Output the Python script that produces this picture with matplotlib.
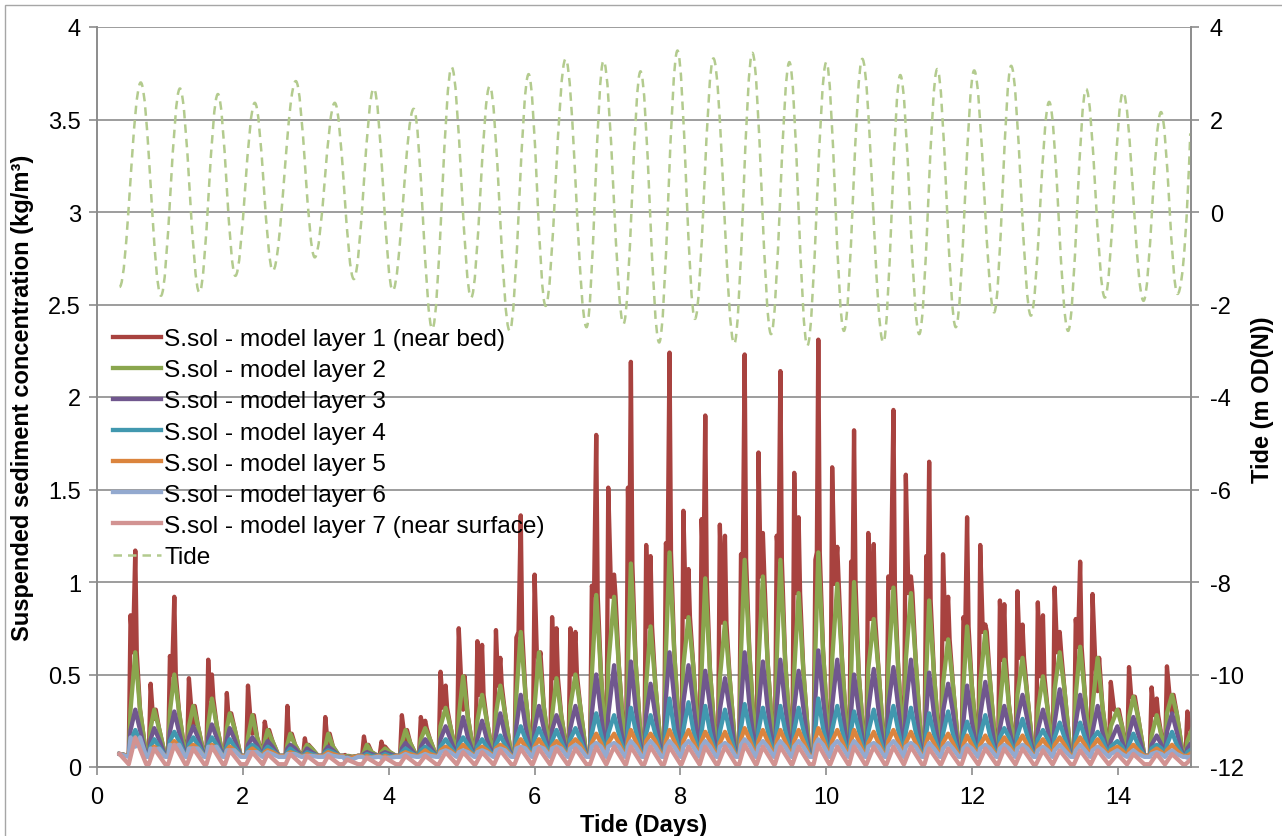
import numpy as np
import matplotlib
matplotlib.use("Agg")
import matplotlib.pyplot as plt
from matplotlib.path import Path
from matplotlib.patches import PathPatch, Rectangle
from matplotlib.lines import Line2D
from matplotlib.ticker import FuncFormatter

plt.rcParams['font.family'] = ['Liberation Sans', 'DejaVu Sans']
plt.rcParams['axes.unicode_minus'] = False

# ---------------- data ----------------
series_start_t = 0.31
series_end_t = 15.0
start_level = 0.07

# tide: start point, high waters, low waters, end point
tide_start = (0.31, -1.62)
tide_end = (14.99, 1.70)
hw_t = [0.60, 1.137, 1.658, 2.164, 2.726, 3.260, 3.795, 4.342, 4.863, 5.384,
        5.918, 6.425, 6.945, 7.452, 7.959, 8.452, 8.986, 9.493, 10.0, 10.493,
        11.014, 11.521, 12.027, 12.534, 13.055, 13.562, 14.068, 14.589]
hw_v = [2.80, 2.67, 2.55, 2.36, 2.83, 2.36, 2.67, 2.23, 3.13, 2.72,
        2.98, 3.31, 3.27, 3.04, 3.49, 3.32, 3.44, 3.24, 3.24, 3.31,
        2.96, 3.09, 3.06, 3.16, 2.38, 2.66, 2.59, 2.16]
lw_t = [0.877, 1.404, 1.897, 2.411, 2.986, 3.521, 4.055, 4.597, 5.130, 5.658,
        6.151, 6.712, 7.219, 7.708, 8.199, 8.737, 9.242, 9.740, 10.241, 10.781,
        11.274, 11.775, 12.301, 12.805, 13.315, 13.819, 14.349, 14.815]
lw_v = [-1.81, -1.74, -1.38, -1.27, -0.98, -1.45, -1.70, -2.53, -1.85, -2.57,
        -2.03, -2.49, -2.42, -2.82, -2.31, -2.85, -2.64, -2.89, -2.57, -2.82,
        -2.64, -2.49, -2.17, -2.24, -2.57, -1.85, -1.92, -1.77]

# sediment events: first and second peak time of each event
ev_t1 = [0.46, 0.735, 1.00, 1.26, 1.525, 1.78, 2.07, 2.30, 2.61, 2.85,
         3.13, 3.40, 3.66, 3.90, 4.18, 4.44, 4.71, 4.96, 5.215, 5.47,
         5.75, 6.00, 6.24, 6.49, 6.785, 7.01, 7.28, 7.53, 7.80, 8.04,
         8.29, 8.54, 8.83, 9.07, 9.32, 9.56, 9.85, 10.08, 10.34, 10.575,
         10.85, 11.09, 11.37, 11.60, 11.88, 12.11, 12.38, 12.62, 12.90, 13.13,
         13.42, 13.65, 13.90, 14.15, 14.46, 14.67, 14.95]
ev_t2 = [0.525, 0.785, 1.06, 1.32, 1.575, 1.82, 2.13, 2.34, 2.65, 2.88,
         3.17, 3.43, 3.70, 3.95, 4.23, 4.50, 4.78, 5.02, 5.28, 5.53,
         5.81, 6.06, 6.30, 6.56, 6.845, 7.09, 7.32, 7.59, 7.85, 8.11,
         8.34, 8.61, 8.88, 9.13, 9.37, 9.62, 9.89, 10.15, 10.38, 10.65,
         10.92, 11.16, 11.41, 11.67, 11.93, 12.18, 12.44, 12.69, 12.97, 13.20,
         13.48, 13.72, 13.99, 14.21, 14.53, 14.74, 15.02]

layer1_p1 = [0.82, 0.45, 0.60, 0.48, 0.58, 0.40, 0.44, 0.245, 0.33, 0.155,
             0.27, 0.065, 0.165, 0.137, 0.28, 0.27, 0.515, 0.75, 0.68, 0.74,
             0.70, 1.04, 0.81, 0.75, 0.98, 1.51, 1.51, 1.20, 1.21, 1.385,
             1.34, 1.31, 1.15, 1.70, 1.25, 1.59, 1.12, 1.62, 1.11, 1.265,
             1.03, 1.58, 1.14, 1.15, 0.81, 1.20, 0.90, 0.95, 0.89, 0.97,
             0.80, 0.935, 0.46, 0.54, 0.43, 0.544, 0.30]
layer1_p2 = [1.17, 0.26, 0.92, 0.22, 0.50, 0.28, 0.18, 0.12, 0.15, 0.08,
             0.12, 0.05, 0.08, 0.11, 0.13, 0.25, 0.44, 0.31, 0.66, 0.59,
             1.36, 0.57, 0.75, 0.73, 1.795, 1.04, 2.19, 1.14, 2.24, 1.07,
             1.90, 1.25, 2.23, 1.265, 2.14, 1.35, 2.31, 1.19, 1.82, 1.205,
             1.93, 1.03, 1.65, 0.92, 1.35, 0.77, 0.88, 0.77, 0.82, 0.73,
             1.11, 0.41, 0.30, 0.38, 0.37, 0.29, 0.18]
layer2_pk = [0.62, 0.31, 0.50, 0.33, 0.37, 0.29, 0.28, 0.20, 0.18, 0.12,
             0.18, 0.06, 0.12, 0.10, 0.20, 0.21, 0.32, 0.49, 0.39, 0.44,
             0.73, 0.62, 0.48, 0.50, 0.93, 0.92, 1.10, 0.76, 1.16, 0.81,
             1.02, 0.78, 1.12, 1.03, 1.12, 0.94, 1.16, 0.99, 1.00, 0.80,
             0.97, 0.94, 0.90, 0.69, 0.76, 0.73, 0.58, 0.59, 0.49, 0.62,
             0.65, 0.59, 0.31, 0.38, 0.28, 0.39, 0.21]
layer3_pk = [0.31, 0.21, 0.30, 0.22, 0.23, 0.21, 0.16, 0.14, 0.12, 0.10,
             0.11, 0.055, 0.08, 0.08, 0.13, 0.15, 0.22, 0.27, 0.25, 0.29,
             0.39, 0.33, 0.28, 0.33, 0.50, 0.55, 0.57, 0.45, 0.62, 0.55,
             0.52, 0.48, 0.62, 0.57, 0.58, 0.52, 0.63, 0.58, 0.50, 0.53,
             0.54, 0.58, 0.51, 0.45, 0.44, 0.46, 0.33, 0.39, 0.31, 0.42,
             0.39, 0.33, 0.22, 0.27, 0.17, 0.29, 0.14]
layer4_pk = [0.20, 0.15, 0.19, 0.16, 0.16, 0.15, 0.12, 0.11, 0.10, 0.08,
             0.09, 0.05, 0.07, 0.07, 0.10, 0.11, 0.15, 0.16, 0.15, 0.17,
             0.22, 0.21, 0.20, 0.21, 0.29, 0.28, 0.32, 0.28, 0.37, 0.35,
             0.33, 0.31, 0.34, 0.32, 0.33, 0.32, 0.37, 0.33, 0.30, 0.31,
             0.33, 0.32, 0.29, 0.30, 0.245, 0.28, 0.21, 0.26, 0.20, 0.24,
             0.24, 0.19, 0.14, 0.18, 0.12, 0.19, 0.10]
layer5_pk = [0.14, 0.11, 0.14, 0.12, 0.12, 0.11, 0.10, 0.09, 0.08, 0.07,
             0.08, 0.05, 0.06, 0.06, 0.08, 0.09, 0.11, 0.12, 0.11, 0.12,
             0.15, 0.15, 0.14, 0.15, 0.18, 0.18, 0.20, 0.18, 0.20, 0.20,
             0.19, 0.19, 0.21, 0.20, 0.20, 0.20, 0.21, 0.20, 0.20, 0.19,
             0.20, 0.19, 0.18, 0.18, 0.17, 0.17, 0.16, 0.17, 0.15, 0.16,
             0.16, 0.15, 0.11, 0.12, 0.10, 0.12, 0.08]
layer6_pk = [0.11, 0.09, 0.11, 0.10, 0.10, 0.09, 0.08, 0.08, 0.07, 0.06,
             0.07, 0.05, 0.05, 0.05, 0.07, 0.07, 0.09, 0.09, 0.09, 0.10,
             0.11, 0.11, 0.11, 0.12, 0.13, 0.13, 0.14, 0.14, 0.14, 0.14,
             0.14, 0.13, 0.15, 0.14, 0.14, 0.14, 0.15, 0.14, 0.14, 0.13,
             0.14, 0.13, 0.13, 0.13, 0.12, 0.12, 0.12, 0.12, 0.11, 0.12,
             0.12, 0.11, 0.09, 0.09, 0.08, 0.09, 0.06]
layer7_pk = [0.16, 0.10, 0.12, 0.10, 0.11, 0.09, 0.08, 0.07, 0.07, 0.06,
             0.06, 0.04, 0.05, 0.05, 0.06, 0.06, 0.08, 0.08, 0.08, 0.09,
             0.10, 0.10, 0.10, 0.10, 0.11, 0.11, 0.11, 0.11, 0.11, 0.11,
             0.11, 0.11, 0.12, 0.11, 0.11, 0.11, 0.12, 0.11, 0.11, 0.11,
             0.11, 0.11, 0.10, 0.10, 0.10, 0.10, 0.10, 0.10, 0.09, 0.09,
             0.09, 0.09, 0.07, 0.07, 0.07, 0.07, 0.05]
trough_level = [0.06, 0.06, 0.06, 0.06, 0.06, 0.055, 0.015]  # layers 1..7

legend_labels = ['S.sol - model layer 1 (near bed)', 'S.sol - model layer 2',
                 'S.sol - model layer 3', 'S.sol - model layer 4',
                 'S.sol - model layer 5', 'S.sol - model layer 6',
                 'S.sol - model layer 7 (near surface)', 'Tide']
colors = ['#A8423F', '#8AA64E', '#70578E', '#4198AF', '#DB843D', '#93A9CF', '#D29392']
tide_color = '#B3CB8E'

# ---------------- figure ----------------
W, H = 1282, 837
fig = plt.figure(figsize=(W / 100, H / 100), dpi=100)
L, R, T, B = 97, 1191, 28, 768
ax = fig.add_axes([L / W, 1 - B / H, (R - L) / W, (B - T) / H])
ax2 = ax.twinx()

grey = '#8C8C8C'
FS = 17

peaks = [layer2_pk, layer3_pk, layer4_pk, layer5_pk, layer6_pk, layer7_pk]
n = len(ev_t1)


def build_layer(k):
    base = trough_level[k]
    ts, vs = [series_start_t], [start_level]
    for i in range(n):
        t1, t2 = ev_t1[i], ev_t2[i]
        nxt = ev_t1[i + 1] - 0.03 if i + 1 < n else 99
        ts.append(t1 - 0.025); vs.append(base)
        if k == 0:
            ts += [t1, 0.5 * (t1 + t2), t2, t2 + 0.02]
            vs += [layer1_p1[i], layer2_pk[i], layer1_p2[i], layer2_pk[i]]
            ts.append(min(t2 + 0.065, nxt - 0.03)); vs.append(layer3_pk[i])
        else:
            if k < 6:
                ts.append(t1); vs.append(peaks[k][i])
            ts.append(t2); vs.append(peaks[k - 1][i])
            if k < 6:
                ts.append(min(t2 + 0.065, nxt - 0.03)); vs.append(peaks[k][i])
        ts.append(min(t2 + 0.15, nxt)); vs.append(base)
    return np.array(ts), np.array(vs)


lw = 3.1
for k in range(7):
    ts, vs = build_layer(k)
    ax.plot(ts, vs, color=colors[k], lw=lw, solid_joinstyle='round', zorder=3 + k)

# tide curve through the turning points as smooth bezier segments
turn = [tide_start]
for a, b, c, d in zip(hw_t, hw_v, lw_t, lw_v):
    turn += [(a, b), (c, d)]
verts = [turn[0]]
codes = [Path.MOVETO]
for (ta, va), (tb, vb) in zip(turn[:-1], turn[1:]):
    dt = tb - ta
    verts += [(ta + 0.364 * dt, va), (tb - 0.364 * dt, vb), (tb, vb)]
    codes += [Path.CURVE4] * 3
ta, va = turn[-1]
tb, vb = tide_end
dt = tb - ta
verts += [(ta + 0.45 * dt, va), (tb - 0.2 * dt, vb - 0.45 * (vb - va)), (tb, vb)]
codes += [Path.CURVE4] * 3
tide_ls = (0, (3.4, 2.4))
tide_patch = PathPatch(Path(verts, codes), fill=False, edgecolor=tide_color,
                       lw=1.8, linestyle=tide_ls, capstyle='butt')
ax2.add_patch(tide_patch)

# axes settings
ax.set_xlim(0, 15)
ax.set_ylim(0, 4)
ax2.set_ylim(-12, 4)
ax.set_xticks(np.arange(0, 15, 2))
ax.set_yticks(np.arange(0, 4.01, 0.5))
ax2.set_yticks(np.arange(-12, 4.01, 2))
fmt = FuncFormatter(lambda v, p: '%g' % v)
ax.yaxis.set_major_formatter(fmt)
ax2.yaxis.set_major_formatter(fmt)
ax.yaxis.grid(True, color=grey, lw=1.2)
ax.set_axisbelow(True)
for a in (ax, ax2):
    a.spines['top'].set_visible(False)
    for s in ('left', 'right', 'bottom'):
        a.spines[s].set_color(grey)
        a.spines[s].set_linewidth(1.2)
    a.tick_params(direction='out', length=5.5, width=1.2, color=grey,
                  labelsize=FS, labelcolor='black')
ax.tick_params(axis='y', pad=6)
ax.tick_params(axis='x', pad=8)
ax2.tick_params(axis='y', pad=8)
ax.patch.set_visible(False)
ax2.patch.set_visible(False)

fig.text(23 / W, 1 - 398 / H, 'Suspended sediment concentration (kg/m³)', rotation=90,
         ha='center', va='center', fontsize=FS, fontweight='bold')
fig.text(1263 / W, 1 - 400 / H, 'Tide (m OD(N))', rotation=90,
         ha='center', va='center', fontsize=FS, fontweight='bold')
fig.text(644 / W, 1 - 826 / H, 'Tide (Days)', ha='center', va='center',
         fontsize=FS, fontweight='bold')

# chart border
fig.patches.append(Rectangle((5 / W, -0.2), 1.5, 1.2 - 5.5 / H, transform=fig.transFigure,
                             fill=False, edgecolor='#A6A6A6', lw=1.0))

handles = [Line2D([], [], color=c, lw=lw) for c in colors]
handles.append(Line2D([], [], color=tide_color, lw=1.8, linestyle=tide_ls))
leg = ax2.legend(handles, legend_labels, loc='upper left',
                 bbox_to_anchor=(113 / W, 1 - 329 / H), bbox_transform=fig.transFigure,
                 frameon=False, prop={'size': 17.6}, borderaxespad=0, borderpad=0,
                 handlelength=1.95, handletextpad=0.15, labelspacing=0.37)

fig.savefig('out.png', dpi=100)
